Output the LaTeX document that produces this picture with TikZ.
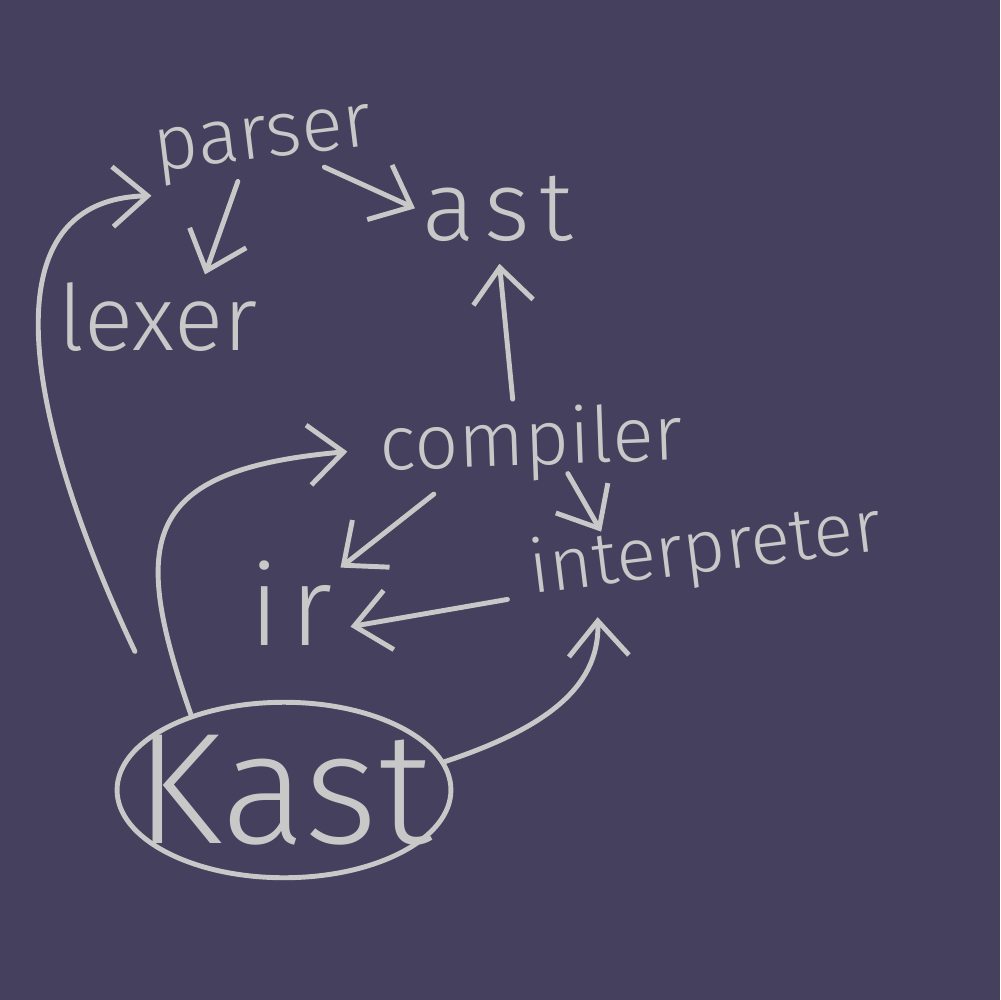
\documentclass[tikz,border=0pt]{standalone}
\usepackage{fontspec}
\newfontfamily\handfont{Fira Sans}[UprightFont={* Light}]
\usetikzlibrary{positioning,arrows.meta,shapes.geometric}
\definecolor{slate}{HTML}{45405D}
\definecolor{chalk}{HTML}{C8C8C8}
\begin{document}
\begin{tikzpicture}[x=0.1mm,y=-0.1mm,
word/.style={text=chalk,inner sep=2pt,anchor=base,font=\handfont\fontsize{#1}{#1}\selectfont},
spread/.style={font=\handfont\fontsize{#1}{#1}\selectfont\addfontfeature{LetterSpace=10}},
arr/.style={draw=chalk,line width=1.4pt,line cap=round,line join=round,-{Straight Barb[length=3.5mm,width=6mm]}}]
\fill[slate] (0,0) rectangle (1000,1000);
\useasboundingbox (0,0) rectangle (1000,1000);
\node[word=22pt,rotate=7] (parser) at (265,158) {parser};
\node[word=28pt,spread=28pt] (ast) at (498,240) {ast};
\node[word=26pt] (lexer) at (158,350) {lexer};
\node[word=22pt,rotate=2] (compiler) at (532,465) {compiler};
\node[word=21pt,rotate=7] (interp) at (708,572) {interpreter};
\node[word=32pt,spread=32pt] (ir) at (291,645) {ir};
\node[word=45pt,anchor=center,draw=chalk,line width=1.4pt,ellipse,inner xsep=-3mm,inner ysep=0.7mm] (kast) at (284,790) {Kast};
% arrows
\draw[arr,shorten <=8mm] (kast.150) .. controls (30,430) and (-20,200) .. (parser.south west);
\draw[arr] ([xshift=-3mm]parser.south) -- ([xshift=4.7mm]lexer.north);
\draw[arr] ([xshift=-6mm]parser.south east) -- (ast.west);
\draw[arr,shorten >=1.5mm] ([xshift=-1.7mm]compiler.north) -- (ast.south);
\draw[arr,shorten >=2.5mm] (kast.141) .. controls (130,540) and (140,470) .. (compiler.west);
\draw[arr] ([xshift=6mm]compiler.south west) -- ([yshift=-1.5mm]ir.north east);
\draw[arr] ([xshift=3.5mm,yshift=1.5mm]compiler.south) -- ([xshift=8.4mm]interp.north west);
\draw[arr] ([xshift=-1.5mm,yshift=-2.5mm]interp.west) -- ([xshift=1mm,yshift=-2.4mm]ir.east);
\draw[arr] (kast.10) .. controls (540,730) and (600,690) .. ([xshift=7mm]interp.south west);
\end{tikzpicture}
\end{document}
